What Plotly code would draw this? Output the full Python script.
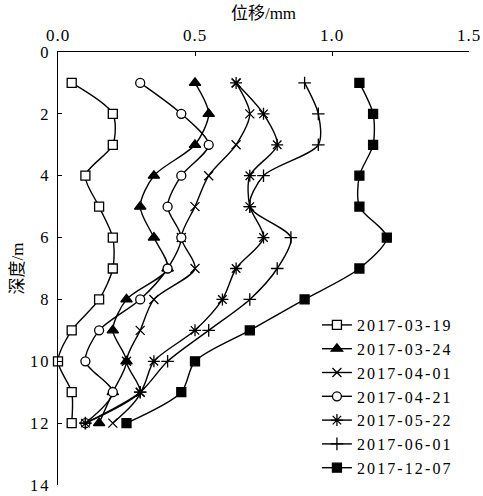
import plotly.graph_objects as go

depth = [1, 2, 3, 4, 5, 6, 7, 8, 9, 10, 11, 12]
d0319 = [0.05, 0.20, 0.20, 0.10, 0.15, 0.20, 0.20, 0.15, 0.05, 0.00, 0.05, 0.05]
d0324 = [0.50, 0.55, 0.50, 0.35, 0.30, 0.35, 0.40, 0.25, 0.20, 0.25, 0.20, 0.15]
d0401 = [0.65, 0.70, 0.65, 0.55, 0.50, 0.45, 0.50, 0.35, 0.30, 0.25, 0.30, 0.20]
d0421 = [0.30, 0.45, 0.55, 0.45, 0.40, 0.45, 0.40, 0.30, 0.15, 0.10, 0.20, 0.10]
d0522 = [0.65, 0.75, 0.80, 0.70, 0.70, 0.75, 0.65, 0.60, 0.50, 0.35, 0.30, 0.10]
d0601 = [0.90, 0.95, 0.95, 0.75, 0.70, 0.85, 0.80, 0.70, 0.55, 0.40, 0.30, 0.10]
d1207 = [1.10, 1.15, 1.15, 1.10, 1.10, 1.20, 1.10, 0.90, 0.70, 0.50, 0.45, 0.25]

names = ["2017-03-19", "2017-03-24", "2017-04-01", "2017-04-21",
         "2017-05-22", "2017-06-01", "2017-12-07"]
series = [d0319, d0324, d0401, d0421, d0522, d0601, d1207]
symbols = ["square", "triangle-up", "x-thin-open", "circle",
           "asterisk-open", "cross-thin-open", "square"]
fills = ["white", "black", "black", "white", "black", "black", "black"]
sizes = [9, 10, 9, 9, 10, 9, 9]

xticks = [0.0, 0.5, 1.0, 1.5]
yticks = [0, 2, 4, 6, 8, 10, 12, 14]

FONT = "Liberation Serif, Times New Roman, Noto Sans CJK SC, serif"


def spaced(t, ls):
    return '<span style="letter-spacing:%spx">%s</span>' % (ls, t)


fig = go.Figure()
for nm, vals, sym, fc, sz in zip(names, series, symbols, fills, sizes):
    fig.add_trace(go.Scatter(
        x=vals, y=depth, name=spaced(nm, 2.1), mode="lines+markers",
        line=dict(color="black", width=1.4, shape="spline", smoothing=0.8),
        marker=dict(symbol=sym, size=sz, color=fc,
                    line=dict(color="black", width=1.3)),
        cliponaxis=False,
    ))

fig.update_layout(
    width=483, height=496,
    margin=dict(l=58, r=14, t=52, b=11, autoexpand=False),
    paper_bgcolor="white", plot_bgcolor="white",
    font=dict(family=FONT, size=17, color="black"),
    showlegend=True,
    legend=dict(x=0.63, y=0.0, xanchor="left", yanchor="bottom",
                bgcolor="rgba(0,0,0,0)", font=dict(size=16, family=FONT),
                itemwidth=30, tracegroupgap=0),
    xaxis=dict(side="top", range=[0, 1.5], tickvals=xticks,
               ticktext=[spaced("%.1f" % v, 1) for v in xticks],
               showgrid=False, zeroline=False, showline=True,
               linecolor="black", linewidth=1.3, automargin=False,
               ticks="inside", ticklen=4, tickcolor="black",
               ticklabelstandoff=3, ticklabeloverflow="allow",
               title=dict(text="位移/mm", standoff=2,
                          font=dict(family=FONT, size=17))),
    yaxis=dict(range=[14, 0], tickvals=yticks,
               ticktext=[spaced(str(v), 2) for v in yticks],
               tickfont=dict(size=16.5),
               showgrid=False, zeroline=False, showline=True,
               linecolor="black", linewidth=1.3, automargin=False,
               ticks="inside", ticklen=4, tickcolor="black",
               ticklabelstandoff=3, ticklabeloverflow="allow",
               title=dict(text="深度/m", standoff=2,
                          font=dict(family=FONT, size=17))),
)

fig.write_html("out.html")
